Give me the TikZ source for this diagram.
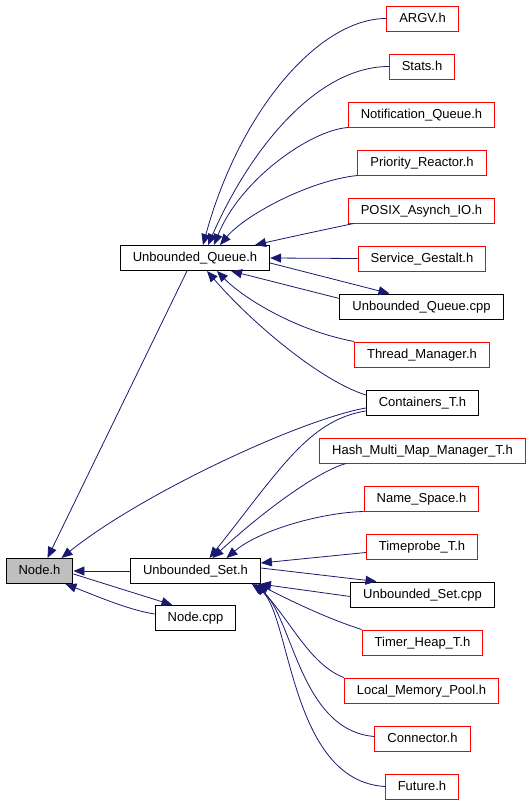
\documentclass[tikz,border=0pt]{standalone}
\usepackage{fontspec}
\setmainfont{Liberation Sans}
\usetikzlibrary{arrows.meta}
\usetikzlibrary{calc}
\definecolor{edgeblue}{RGB}{25,25,112}

\tikzset{
  hfile/.style={draw=black, line width=1pt, minimum height=25pt, inner xsep=12.5pt, inner ysep=0pt,
    text height=9.5pt, text depth=2.5pt, font=\fontsize{13}{15}\selectfont},
  redfile/.style={hfile, draw=red},
  incl/.style={draw=edgeblue, line width=0.8pt, -{Triangle[length=11pt,width=9pt]}},
}

\begin{document}
\begin{tikzpicture}[x=1pt, y=-1pt]
				\useasboundingbox (0,0) rectangle (531,803);
				% the file and the headers that include it
				\node[hfile, fill=black!25] (nodeh) at (39.5,571) {Node.h};
				\node[hfile] (uq) at (195,258) {Unbounded\_Queue.h};
				\node[hfile] (uset) at (195.5,571) {Unbounded\_Set.h};
				\node[hfile] (nodecpp) at (195.5,618) {Node.cpp};
				% right column
				\node[redfile] (argv) at (422.5,18.5) {ARGV.h};
				\node[redfile] (stats) at (422,66.5) {Stats.h};
				\node[redfile] (notif) at (421.5,114.5) {Notification\_Queue.h};
				\node[redfile] (prio) at (422,162.5) {Priority\_Reactor.h};
				\node[redfile] (posix) at (421.5,210.5) {POSIX\_Asynch\_IO.h};
				\node[redfile] (servg) at (422,258.5) {Service\_Gestalt.h};
				\node[hfile] (uqcpp) at (421.5,306.5) {Unbounded\_Queue.cpp};
				\node[redfile] (thrm) at (422,354.5) {Thread\_Manager.h};
				\node[hfile] (cont) at (422.5,403) {Containers\_T.h};
				\node[redfile] (hash) at (422.5,450.5) {Hash\_Multi\_Map\_Manager\_T.h};
				\node[redfile] (names) at (421.5,498.5) {Name\_Space.h};
				\node[redfile] (timep) at (422,546.5) {Timeprobe\_T.h};
				\node[hfile] (usetcpp) at (422.5,594.5) {Unbounded\_Set.cpp};
				\node[redfile] (timerh) at (422.5,642.5) {Timer\_Heap\_T.h};
				\node[redfile] (lmp) at (421.5,690.5) {Local\_Memory\_Pool.h};
				\node[redfile] (conn) at (422.5,738.5) {Connector.h};
				\node[redfile] (fut) at (422,786.5) {Future.h};
				
				% into Unbounded_Queue.h
				\draw[incl] (argv.west) .. controls +(-67,0) and +(37,-135) .. ($(uq.north)+(8,0)$);
				\draw[incl] (stats.west) .. controls +(-70,0) and +(44,-100) .. ($(uq.north)+(13,0)$);
				\draw[incl] (notif.south west) .. controls +(-38,3) and +(26,-65) .. ($(uq.north)+(19,0)$);
				\draw[incl] (prio.south west) .. controls +(-48,5) and +(25,-30) .. ($(uq.north)+(25,0)$);
				\draw[incl] ($(posix.south west)+(6,0)$) .. controls +(-24,5) and +(35,-8) .. ($(uq.north)+(60,0)$);
				\draw[incl] (servg.west) -- (uq.east);
				\draw[incl] ($(uq.east)+(0,5)$) -- ($(uqcpp.north)+(-32,0)$);
				\draw[incl] ($(uqcpp.west)+(0,-8)$) -- ($(uq.south)+(36,0)$);
				\draw[incl] (thrm.north west) .. controls +(-63,-12) and +(23,24) .. ($(uq.south)+(22,0)$);
				\draw[incl] ($(cont.west)+(0,-8)$) .. controls +(-47,-15) and +(43,50) .. ($(uq.south)+(12,0)$);
				
				% into Node.h
				\draw[incl] ($(uq.south)+(-8,0)$) -- ($(nodeh.north)+(8,0)$);
				\draw[incl] ($(cont.west)+(0,5)$) .. controls +(-67,12) and +(78,-63) .. ($(nodeh.north)+(22,0)$);
				\draw[incl] (uset.west) -- (nodeh.east);
				\draw[incl] ($(nodeh.east)+(0,3)$) -- ($(nodecpp.north)+(-23,0)$);
				\draw[incl] ($(nodecpp.west)+(0,-4)$) .. controls +(-26,-4) and +(31,12) .. ($(nodeh.south east)+(-8,0)$);
				
				% into Unbounded_Set.h
				\draw[incl] ($(cont.west)+(0,8)$) .. controls +(-57,9) and +(70,-88) .. ($(uset.north)+(14,0)$);
				\draw[incl] ($(hash.south west)+(27,0)$) .. controls +(-27,7) and +(52,-48) .. ($(uset.north)+(17,0)$);
				\draw[incl] (names.south west) .. controls +(-42,1) and +(33,-28) .. ($(uset.north)+(31,0)$);
				\draw[incl] ($(timep.west)+(0,6)$) -- ($(uset.east)+(0,-8)$);
				\draw[incl] ($(uset.east)+(0,-3)$) -- ($(usetcpp.north)+(-46,0)$);
				\draw[incl] ($(usetcpp.west)+(0,2)$) -- ($(uset.south east)+(-1,0)$);
				\draw[incl] (timerh.north west) .. controls +(-32,-10) and +(33,17) .. ($(uset.south east)+(-3,0)$);
				\draw[incl] (lmp.north west) .. controls +(-34,-13) and +(35,37) .. ($(uset.south east)+(-5,0)$);
				\draw[incl] ($(conn.west)+(0,-2)$) .. controls +(-75,-6) and +(39,32) .. ($(uset.south east)+(-7,0)$);
				\draw[incl] (fut.west) .. controls +(-96,-6) and +(39,27) .. ($(uset.south east)+(-9,0)$);
			\end{tikzpicture}
\end{document}
